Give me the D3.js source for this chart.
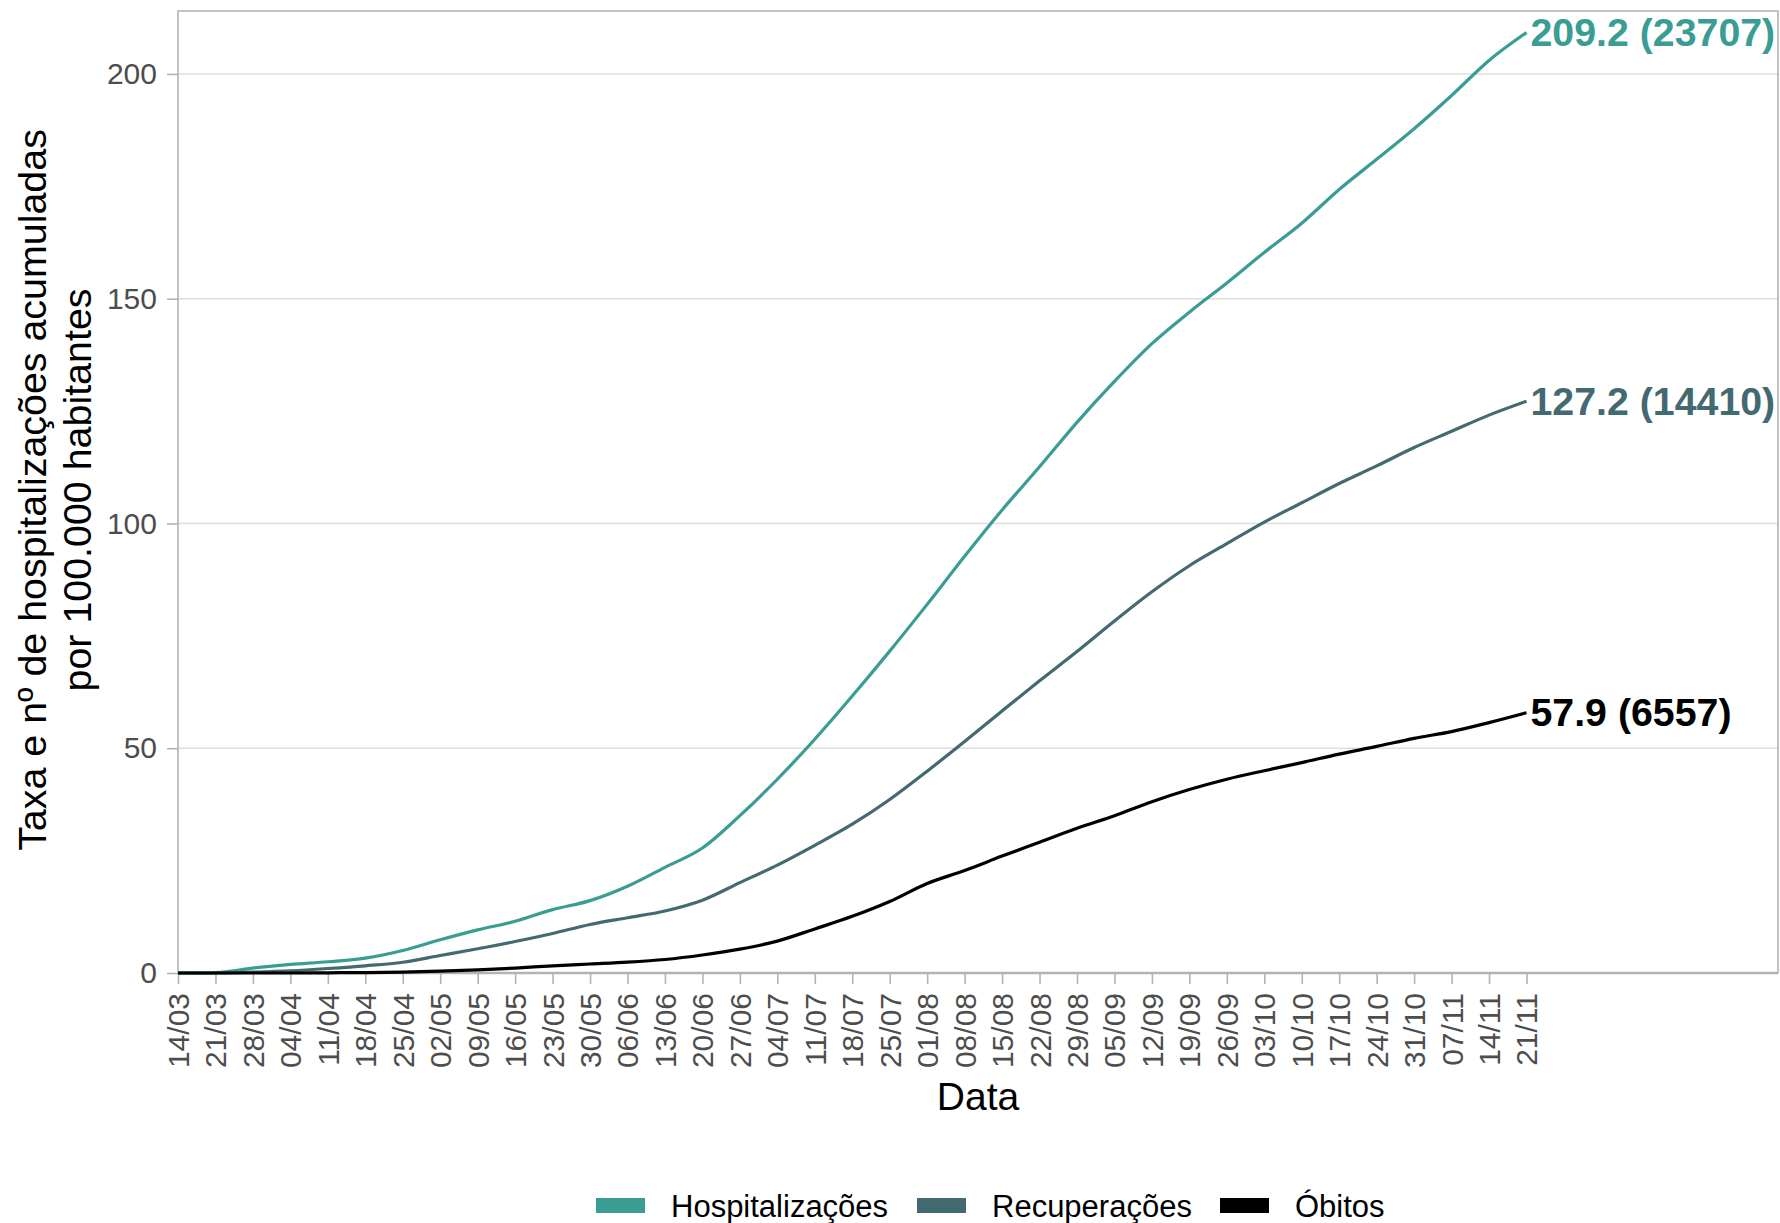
<!DOCTYPE html>
<html>
<head>
<meta charset="utf-8">
<script src="https://cdn.jsdelivr.net/npm/d3@7"></script>
<style>
  html, body { margin: 0; padding: 0; background: #fff; }
  svg { display: block; font-family: "Liberation Sans", Arial, Helvetica, sans-serif; }
</style>
</head>
<body>
<svg id="chart" width="1780" height="1223"></svg>
<script>
// ---- data ----
const weekLabels = ["14/03","21/03","28/03","04/04","11/04","18/04","25/04","02/05","09/05","16/05",
  "23/05","30/05","06/06","13/06","20/06","27/06","04/07","11/07","18/07","25/07","01/08","08/08",
  "15/08","22/08","29/08","05/09","12/09","19/09","26/09","03/10","10/10","17/10","24/10","31/10",
  "07/11","14/11","21/11"];
const hospitalizacoes = [0, 0.1, 1.1, 1.9, 2.5, 3.3, 5.0, 7.4, 9.6, 11.5, 14.1, 16.1, 19.3, 23.5,
  27.8, 35.0, 43.1, 52.0, 61.6, 71.6, 82.0, 92.7, 103.0, 112.6, 122.5, 131.6, 140.0, 147.0, 153.5,
  160.3, 166.8, 174.3, 181.0, 187.8, 195.2, 203.0, 209.2];
const recuperacoes = [0, 0, 0.2, 0.5, 1.0, 1.6, 2.4, 3.9, 5.4, 7.0, 8.8, 10.8, 12.3, 13.8, 16.2,
  20.1, 24.0, 28.4, 33.1, 38.6, 44.9, 51.5, 58.3, 65.0, 71.5, 78.3, 84.8, 90.6, 95.5, 100.3, 104.6,
  108.9, 112.8, 116.9, 120.5, 124.1, 127.2];
const obitos = [0, 0, 0, 0, 0.05, 0.1, 0.2, 0.4, 0.7, 1.1, 1.6, 2.0, 2.4, 3.0, 4.0, 5.3, 7.1, 9.8,
  12.6, 15.9, 19.9, 22.8, 26.0, 29.1, 32.2, 35.0, 38.1, 40.8, 43.1, 45.0, 46.8, 48.7, 50.4, 52.2,
  53.7, 55.7, 57.9];
const seriesNames = ["Hospitalizações", "Recuperações", "Óbitos"];
const seriesColors = ["#3a9d93", "#436a70", "#000000"];
const finalCounts = [23707, 14410, 6557];
const yTicks = [0, 50, 100, 150, 200];
const year = 2020;

// ---- layout ----
const W = 1780, H = 1223;
const panel = { left: 178, top: 11, right: 1778, bottom: 973 };

const parse = d3.timeParse("%d/%m/%Y");
const dates = weekLabels.map(d => parse(d + "/" + year));
const seriesValues = [hospitalizacoes, recuperacoes, obitos];

const x = d3.scaleTime()
  .domain([dates[0], d3.timeDay.offset(dates[dates.length - 1], 47)])
  .range([panel.left, panel.right]);
const y = d3.scaleLinear()
  .domain([0, 214])
  .range([panel.bottom, panel.top]);

const svg = d3.select("#chart");
svg.append("rect").attr("width", W).attr("height", H).attr("fill", "#fff");

// gridlines
svg.append("g").selectAll("line").data(yTicks.filter(t => t > 0)).join("line")
  .attr("x1", panel.left).attr("x2", panel.right)
  .attr("y1", d => y(d)).attr("y2", d => y(d))
  .attr("stroke", "#dedede").attr("stroke-width", 1.6);

// y axis
const yAxis = d3.axisLeft(y).tickValues(yTicks).tickSize(11).tickPadding(10);
const gy = svg.append("g").attr("transform", `translate(${panel.left},0)`).call(yAxis);
gy.select(".domain").remove();
gy.selectAll(".tick line").attr("stroke", "#b3b3b3").attr("stroke-width", 1.6);
gy.selectAll(".tick text").attr("fill", "#4d4d4d").attr("font-size", 30)
  .attr("font-family", "Liberation Sans, Arial, sans-serif");

// x axis
const xAxis = d3.axisBottom(x).tickValues(dates).tickSize(11)
  .tickFormat(d3.timeFormat("%d/%m"));
const gx = svg.append("g").attr("transform", `translate(0,${panel.bottom})`).call(xAxis);
gx.select(".domain").remove();
gx.selectAll(".tick line").attr("stroke", "#b3b3b3").attr("stroke-width", 1.6);
gx.selectAll(".tick text")
  .attr("fill", "#4d4d4d").attr("font-size", 30)
  .attr("font-family", "Liberation Sans, Arial, sans-serif")
  .attr("transform", "rotate(-90)")
  .attr("text-anchor", "end")
  .attr("x", -20).attr("y", 0).attr("dy", "0.35em");

// panel border
svg.append("rect")
  .attr("x", panel.left).attr("y", panel.top)
  .attr("width", panel.right - panel.left).attr("height", panel.bottom - panel.top)
  .attr("fill", "none").attr("stroke", "#b3b3b3").attr("stroke-width", 1.6);
svg.append("line")
  .attr("x1", panel.left).attr("x2", panel.right)
  .attr("y1", panel.bottom).attr("y2", panel.bottom)
  .attr("stroke", "#b3b3b3").attr("stroke-width", 2.4);

// lines
const line = d3.line().x((d, i) => x(dates[i])).y(d => y(d)).curve(d3.curveMonotoneX);
seriesValues.forEach((vals, s) => {
  svg.append("path").datum(vals)
    .attr("d", line)
    .attr("fill", "none")
    .attr("stroke", seriesColors[s])
    .attr("stroke-width", 3.2)
    .attr("stroke-linejoin", "round");
});

// end labels
seriesValues.forEach((vals, s) => {
  const last = vals[vals.length - 1];
  svg.append("text")
    .attr("x", x(dates[dates.length - 1]) + 4)
    .attr("y", y(last))
    .attr("dy", "0.35em")
    .attr("fill", seriesColors[s])
    .attr("font-size", 39.3)
    .attr("font-weight", "bold")
    .text(`${last.toFixed(1)} (${finalCounts[s]})`);
});

// axis titles
svg.append("text")
  .attr("x", (panel.left + panel.right) / 2).attr("y", 1110)
  .attr("text-anchor", "middle").attr("font-size", 39).attr("fill", "#000")
  .text("Data");
const yTitle = ["Taxa e nº de hospitalizações acumuladas", "por 100.000 habitantes"];
yTitle.forEach((t, i) => {
  svg.append("text")
    .attr("transform", `translate(${46 + i * 45},${(panel.top + panel.bottom) / 2 - 2}) rotate(-90)`)
    .attr("text-anchor", "middle").attr("font-size", 39.4).attr("fill", "#000")
    .text(t);
});

// legend
const legendX = [596, 917, 1220];
const lg = svg.append("g");
seriesNames.forEach((name, i) => {
  lg.append("rect").attr("x", legendX[i]).attr("y", 1198)
    .attr("width", 49).attr("height", 15).attr("fill", seriesColors[i]);
  lg.append("text").attr("x", legendX[i] + 75).attr("y", 1217)
    .attr("font-size", 31).attr("fill", "#000").text(name);
});
</script>
</body>
</html>
